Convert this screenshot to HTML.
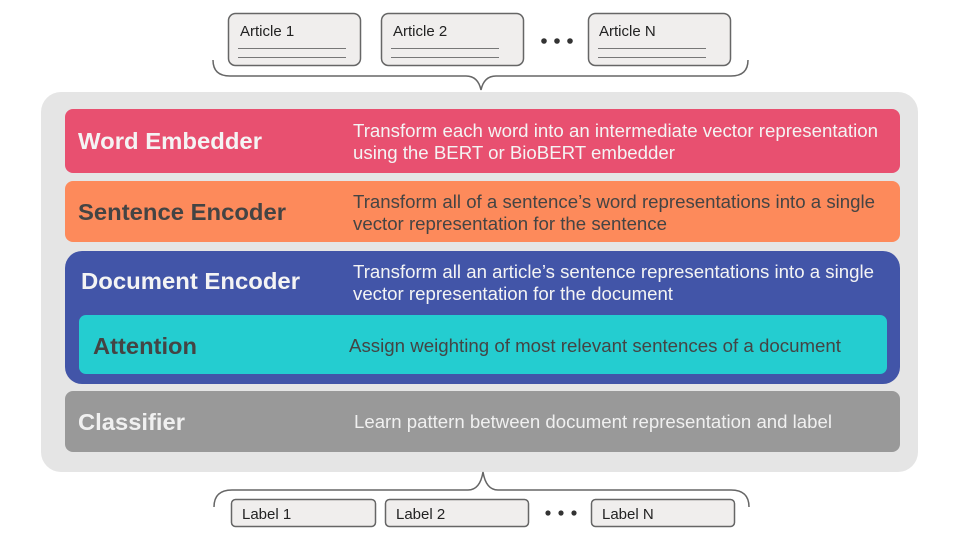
<!DOCTYPE html>
<html><head><meta charset="utf-8"><style>
html,body{margin:0;padding:0;background:#fff;}
svg{display:block;font-family:"Liberation Sans",Arial,sans-serif;}
</style></head><body>
<svg width="960" height="540" viewBox="0 0 960 540" xmlns="http://www.w3.org/2000/svg">
<g stroke="#666" stroke-width="1.5" fill="#f0eeed">
<rect x="228.5" y="13.5" width="132" height="52" rx="7"/>
<rect x="381.5" y="13.5" width="142" height="52" rx="7"/>
<rect x="588.5" y="13.5" width="142" height="52" rx="7"/>
</g>
<g stroke="#777" stroke-width="1">
<line x1="238" y1="48.5" x2="346" y2="48.5"/><line x1="238" y1="57.5" x2="346" y2="57.5"/>
<line x1="391" y1="48.5" x2="499" y2="48.5"/><line x1="391" y1="57.5" x2="499" y2="57.5"/>
<line x1="598" y1="48.5" x2="706" y2="48.5"/><line x1="598" y1="57.5" x2="706" y2="57.5"/>
</g>
<g font-size="15" fill="#222">
<text x="240" y="36">Article 1</text>
<text x="393" y="36">Article 2</text>
<text x="599" y="36">Article N</text>
</g>
<g fill="#333"><circle cx="544" cy="41" r="2.8"/><circle cx="557" cy="41" r="2.8"/><circle cx="570" cy="41" r="2.8"/></g>
<path d="M213 60 Q213 76 230 76 L466 76 Q478 76 481 90 Q484 76 496 76 L731 76 Q748 76 748 60" fill="none" stroke="#666" stroke-width="1.5"/>
<rect x="41" y="92" width="877" height="380" rx="20" fill="#e5e5e5"/>
<rect x="65" y="109" width="835" height="64" rx="8" fill="#e85070"/>
<rect x="65" y="181" width="835" height="61" rx="8" fill="#fd8a5b"/>
<rect x="65" y="251" width="835" height="133" rx="17" fill="#4255a8"/>
<rect x="79" y="315" width="808" height="59" rx="7" fill="#24cdd0"/>
<rect x="65" y="391" width="835" height="61" rx="8" fill="#999999"/>
<g font-weight="bold" font-size="23" lengthAdjust="spacingAndGlyphs">
<text x="78" y="149" fill="#f4f4f4" textLength="184" lengthAdjust="spacingAndGlyphs">Word Embedder</text>
<text x="78" y="220" fill="#444" textLength="208" lengthAdjust="spacingAndGlyphs">Sentence Encoder</text>
<text x="81" y="289" fill="#f4f4f4" textLength="219" lengthAdjust="spacingAndGlyphs">Document Encoder</text>
<text x="93" y="354" fill="#444" textLength="104" lengthAdjust="spacingAndGlyphs">Attention</text>
<text x="78" y="430" fill="#f0f0f0" textLength="107" lengthAdjust="spacingAndGlyphs">Classifier</text>
</g>
<g font-size="18">
<text x="353" y="137" fill="#f4f4f4" textLength="525" lengthAdjust="spacingAndGlyphs">Transform each word into an intermediate vector representation</text>
<text x="353" y="159" fill="#f4f4f4" textLength="322" lengthAdjust="spacingAndGlyphs">using the BERT or BioBERT embedder</text>
<text x="353" y="208" fill="#444" textLength="522" lengthAdjust="spacingAndGlyphs">Transform all of a sentence’s word representations into a single</text>
<text x="353" y="230" fill="#444" textLength="314" lengthAdjust="spacingAndGlyphs">vector representation for the sentence</text>
<text x="353" y="278" fill="#f4f4f4" textLength="521" lengthAdjust="spacingAndGlyphs">Transform all an article’s sentence representations into a single</text>
<text x="353" y="300" fill="#f4f4f4" textLength="320" lengthAdjust="spacingAndGlyphs">vector representation for the document</text>
<text x="349" y="352" fill="#444" textLength="492" lengthAdjust="spacingAndGlyphs">Assign weighting of most relevant sentences of a document</text>
<text x="354" y="428" fill="#f0f0f0" textLength="478" lengthAdjust="spacingAndGlyphs">Learn pattern between document representation and label</text>
</g>
<path d="M214 507 Q214 490 232 490 L468 490 Q480 490 483 472 Q486 490 498 490 L731 490 Q749 490 749 507" fill="none" stroke="#666" stroke-width="1.5"/>
<g stroke="#666" stroke-width="1.5" fill="#f0eeed">
<rect x="231.5" y="499.5" width="144" height="27" rx="4"/>
<rect x="385.5" y="499.5" width="143" height="27" rx="4"/>
<rect x="591.5" y="499.5" width="143" height="27" rx="4"/>
</g>
<g font-size="15" fill="#222">
<text x="242" y="519">Label 1</text>
<text x="396" y="519">Label 2</text>
<text x="602" y="519">Label N</text>
</g>
<g fill="#333"><circle cx="548" cy="513" r="2.6"/><circle cx="561" cy="513" r="2.6"/><circle cx="574" cy="513" r="2.6"/></g>
</svg>
</body></html>
